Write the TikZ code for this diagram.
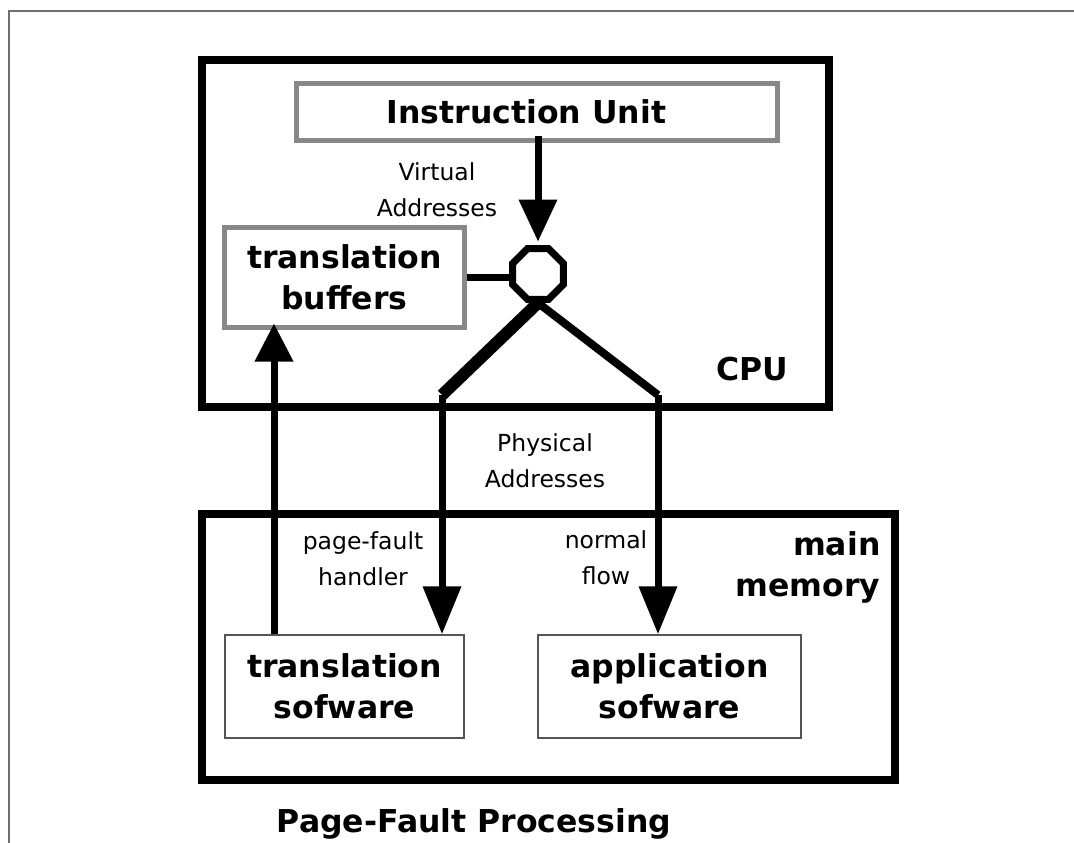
\documentclass[tikz,border=0pt]{standalone}
\usepackage{fontspec}
\setmainfont{DejaVu Sans}
\definecolor{UnitGray}{RGB}{136,136,136}
\definecolor{FrameGray}{RGB}{110,110,110}
\definecolor{SoftGray}{RGB}{85,85,85}
\usetikzlibrary{shapes.geometric,arrows.meta,positioning,calc}
\newcommand{\bigfont}{\fontsize{31.5}{41}\selectfont\bfseries}
\newcommand{\notefont}{\fontsize{23.5}{36}\selectfont}
\tikzset{flow/.style={line width=7pt,-{Triangle[width=37pt,length=#1]}},
         flow/.default=44pt}

\begin{document}
\begin{tikzpicture}[x=1pt,y=-1pt,
    hull/.style={draw,line width=8pt,inner sep=0pt},
    unit/.style={draw=UnitGray,line width=5pt,fill=white,inner sep=0pt,
                 font=\bigfont,align=center},
    soft/.style={draw=SoftGray,line width=1.5pt,inner sep=0pt,
                 font=\bigfont,align=center},
    note/.style={font=\notefont,align=center,anchor=base}]
  \useasboundingbox (0,0) rectangle (1074,843);
  \draw[FrameGray,line width=1.8pt] (9,843) -- (9,11) -- (1074,11);
  \node[hull,minimum width=627pt,minimum height=346pt] (cpu) at (515.5,233.5) {};
  \node[hull,minimum width=693pt,minimum height=266pt] (mem) at (548.5,647) {};
  \node[unit,minimum width=481pt,minimum height=56.5pt] (iu) at (537,112.25) {Instruction Unit\hspace*{21pt}};
  \node[unit,minimum width=239.5pt,minimum height=100pt] (tb) at (344.5,277) {translation\\buffers};
  \node[soft,minimum width=239pt,minimum height=103pt] (ts) at (344.5,686.5) {translation\\sofware};
  \node[soft,minimum width=263pt,minimum height=103pt] (as) at (669.5,686.5) {application\\sofware};
  \node[draw,regular polygon,regular polygon sides=8,minimum size=55pt,
        line width=7pt,inner sep=0pt] (mux) at (538,274) {};
  \coordinate (pfbend) at (442,395);
  \coordinate (nfbend) at (658,395);
  \draw[flow=42pt] ($(iu.south -| mux.north)+(0,-7)$) -- ([yshift=3.5pt]mux.north);
  \draw[line width=7pt] (tb.east) -- (tb.east -| mux.west);
  \draw[line width=12pt] (mux.south) -- (pfbend);
  \draw[line width=8pt] (mux.south) -- (nfbend);
  \draw[flow=48pt] (pfbend) -- (pfbend |- ts.north);
  \draw[flow=48pt] (nfbend) -- (nfbend |- as.north);
  \draw[flow=38pt] ([xshift=-70.5pt]ts.north) -- ([xshift=-70.5pt,yshift=6pt]tb.south);
  \node[note] (virt) at (437,216) {Virtual\\Addresses};
  \node[note] (phys) at (545,487) {Physical\\Addresses};
  \node[note] (pfh) at (363,585) {page-fault\\handler};
  \node[note] (nf) at (606,584) {normal\\flow};
  \node[font=\bigfont,anchor=base] (cpulbl) at (752,380) {CPU};
  \node[font=\bigfont,align=right,anchor=base east] (memlbl) at (884,596) {main\\memory};
  \node[font=\bigfont,anchor=base] (title) at (474,832) {Page-Fault Processing};
\end{tikzpicture}
\end{document}
